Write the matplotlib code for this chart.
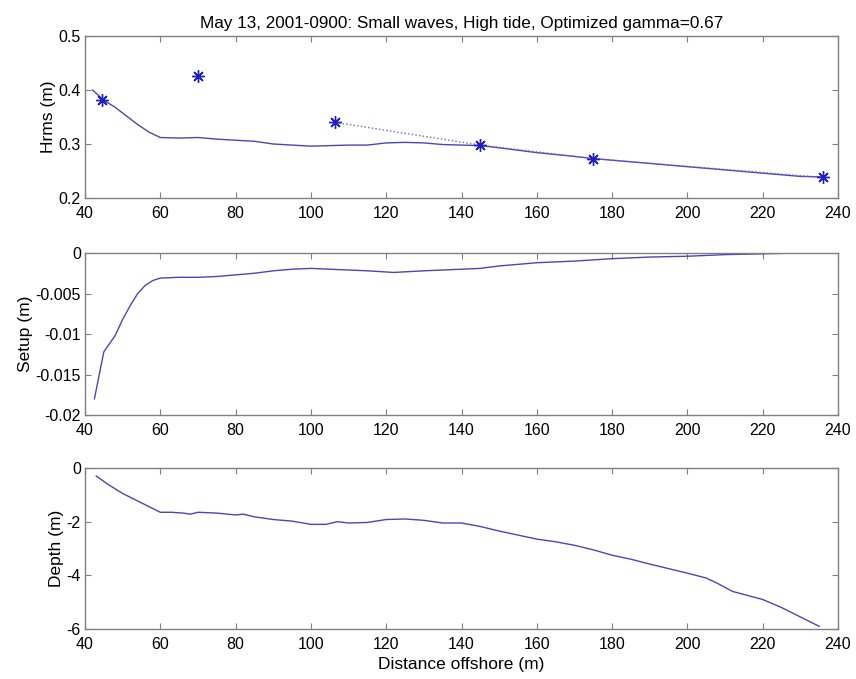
import matplotlib
matplotlib.use("Agg")
import matplotlib.pyplot as plt

plt.rcParams['font.family'] = ['Liberation Sans', 'DejaVu Sans']

# ---- data ----
title = "May 13, 2001-0900: Small waves, High tide, Optimized gamma=0.67"

hrms_x = [42, 45, 48, 51, 54, 57, 60, 65, 70, 75, 80, 85, 90, 95, 100, 105, 110,
          115, 120, 125, 130, 135, 140, 145, 150, 160, 170, 175, 180, 190, 200,
          210, 220, 230, 236]
hrms_y = [0.400, 0.381, 0.368, 0.352, 0.336, 0.322, 0.312, 0.311, 0.312, 0.309,
          0.307, 0.305, 0.300, 0.298, 0.296, 0.297, 0.298, 0.298, 0.302, 0.303,
          0.302, 0.299, 0.298, 0.297, 0.293, 0.284, 0.277, 0.273, 0.270, 0.264,
          0.258, 0.252, 0.246, 0.240, 0.239]

meas_x = [44.5, 70, 106.5, 145, 175, 236]
meas_y = [0.382, 0.426, 0.340, 0.298, 0.273, 0.238]
meas_line_x = [106.5, 145, 175, 236]
meas_line_y = [0.340, 0.298, 0.273, 0.238]

setup_x = [42.5, 45, 48, 50, 52, 54, 56, 58, 60, 65, 70, 75, 80, 85, 90, 95, 100,
           105, 110, 115, 122, 130, 140, 145, 150, 160, 170, 180, 190, 200, 210,
           220, 229]
setup_y = [-0.0180, -0.0122, -0.0102, -0.0082, -0.0065, -0.0050, -0.0040, -0.0034,
           -0.0031, -0.0030, -0.0030, -0.0029, -0.0027, -0.0025, -0.0022, -0.0020,
           -0.0019, -0.0020, -0.0021, -0.0022, -0.0024, -0.0022, -0.0020, -0.0019,
           -0.0016, -0.0012, -0.0010, -0.0007, -0.0005, -0.0004, -0.0002, -0.0001,
           0.0000]

depth_x = [43, 46, 50, 55, 60, 63, 66, 68, 70, 75, 80, 82, 85, 90, 95, 100, 104,
           107, 110, 115, 120, 125, 130, 135, 140, 145, 150, 155, 160, 165, 170,
           175, 180, 185, 190, 195, 200, 205, 208, 212, 216, 220, 225, 230, 235]
depth_y = [-0.30, -0.60, -0.95, -1.30, -1.65, -1.65, -1.68, -1.72, -1.65, -1.68,
           -1.75, -1.72, -1.82, -1.92, -1.98, -2.10, -2.10, -2.00, -2.05, -2.03,
           -1.92, -1.90, -1.95, -2.05, -2.05, -2.18, -2.35, -2.50, -2.65, -2.75,
           -2.88, -3.05, -3.25, -3.40, -3.58, -3.75, -3.92, -4.10, -4.30, -4.60,
           -4.75, -4.90, -5.20, -5.55, -5.90]

xticks = [40, 60, 80, 100, 120, 140, 160, 180, 200, 220, 240]
hrms_ticks = [0.2, 0.3, 0.4, 0.5]
hrms_labels = ["0.2", "0.3", "0.4", "0.5"]
setup_ticks = [-0.02, -0.015, -0.01, -0.005, 0]
setup_labels = ["-0.02", "-0.015", "-0.01", "-0.005", "0"]
depth_ticks = [-6, -4, -2, 0]
depth_labels = ["-6", "-4", "-2", "0"]

line_color = '#4848b4'
mark_color = '#2020c0'
spine_color = '#808080'
TICK_FS = 11.5
LABEL_FS = 12.5

W, H = 856, 679
fig = plt.figure(figsize=(W / 100, H / 100), dpi=100)

left = 85 / W
width = (838 - 85) / W

def make_ax(top_px, bot_px):
    ax = fig.add_axes([left, 1 - bot_px / H, width, (bot_px - top_px) / H])
    for s in ax.spines.values():
        s.set_color(spine_color)
        s.set_linewidth(1.0)
    ax.tick_params(direction='in', top=True, right=True, length=4,
                   color=spine_color, labelsize=TICK_FS)
    ax.tick_params(axis='x', pad=6)
    ax.tick_params(axis='y', pad=3)
    ax.set_xlim(40, 240)
    ax.set_xticks(xticks)
    return ax

ax1 = make_ax(36, 198)
ax1.plot(hrms_x, hrms_y, color=line_color, lw=1.0)
ax1.plot(meas_line_x, meas_line_y, color='#6a6ac8', lw=1.0, ls=':')
ax1.plot(meas_x, meas_y, ls='none', marker=(8, 2, 0), ms=9, mew=1.0,
         color=mark_color)
ax1.set_ylim(0.2, 0.5)
ax1.set_yticks(hrms_ticks)
ax1.set_yticklabels(hrms_labels)
ax1.set_ylabel("Hrms (m)", fontsize=LABEL_FS, labelpad=2)
ax1.set_title(title, fontsize=12.3, pad=6)

ax2 = make_ax(253, 415)
ax2.plot(setup_x, setup_y, color=line_color, lw=1.0)
ax2.set_ylim(-0.02, 0)
ax2.set_yticks(setup_ticks)
ax2.set_yticklabels(setup_labels)
ax2.set_ylabel("Setup (m)", fontsize=LABEL_FS, labelpad=2)

ax3 = make_ax(468, 629)
ax3.plot(depth_x, depth_y, color=line_color, lw=1.0)
ax3.set_ylim(-6, 0)
ax3.set_yticks(depth_ticks)
ax3.set_yticklabels(depth_labels)
ax3.set_ylabel("Depth (m)", fontsize=LABEL_FS, labelpad=2)
ax3.set_xlabel("Distance offshore (m)", fontsize=LABEL_FS, labelpad=3)

fig.savefig("out.png", dpi=100)
